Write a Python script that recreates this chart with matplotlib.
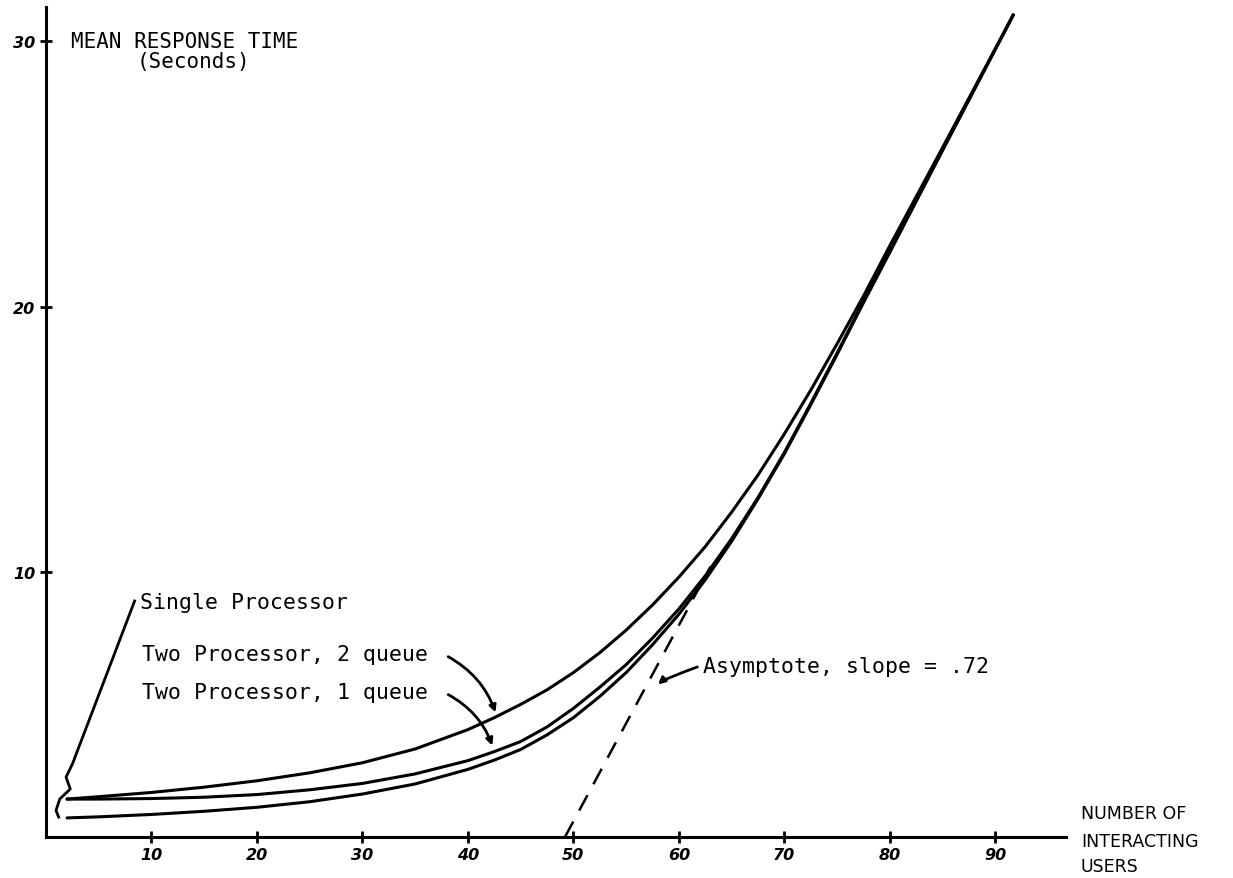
import numpy as np
import matplotlib.pyplot as plt

# values (users, mean response time in seconds)
users = [2, 5, 10, 15, 20, 25, 30, 35, 40, 42.5, 45, 47.5, 50, 52.5, 55, 57.5,
         60, 62.5, 65, 67.5, 70, 72.5, 75, 77.5, 80, 85, 91.7]
two_proc_2q = [1.43, 1.52, 1.68, 1.88, 2.12, 2.42, 2.8, 3.32, 4.05, 4.5, 5.0, 5.55, 6.2, 6.95,
               7.8, 8.75, 9.8, 10.95, 12.25, 13.65, 15.2, 16.85, 18.6, 20.4, 22.3, 26.0, 31.0]
two_proc_1q = [1.43, 1.43, 1.45, 1.5, 1.6, 1.78, 2.02, 2.38, 2.88, 3.22, 3.6, 4.15, 4.85, 5.65,
               6.5, 7.5, 8.6, 9.85, 11.25, 12.8, 14.5, 16.35, 18.25, 20.2, 22.1, 25.9, 31.0]
single_proc = [0.72, 0.76, 0.85, 0.97, 1.12, 1.33, 1.62, 2.0, 2.55, 2.9, 3.3, 3.85, 4.5, 5.3,
               6.2, 7.25, 8.4, 9.7, 11.15, 12.75, 14.45, 16.3, 18.2, 20.15, 22.05, 25.9, 31.0]

asym_x = [49.2, 63.0]
asym_y = [0.0, 10.2]

xticks = [10, 20, 30, 40, 50, 60, 70, 80, 90]
yticks = [10, 20, 30]

mono = 'DejaVu Sans Mono'

fig = plt.figure(figsize=(12.33, 8.79), dpi=100)
ax = fig.add_axes([46 / 1233, 41 / 879, (1066 - 46) / 1233, (838 - 8) / 879])
ax.set_xlim(0, 96.7)
ax.set_ylim(0, 31.3)

for s in ['top', 'right']:
    ax.spines[s].set_visible(False)
for s in ['left', 'bottom']:
    ax.spines[s].set_linewidth(2.2)

ax.set_xticks(xticks)
ax.set_yticks(yticks)
ax.set_xticklabels([str(v) for v in xticks], fontsize=11.5, fontweight='bold', fontstyle='italic')
ax.set_yticklabels([str(v) for v in yticks], fontsize=11.5, fontweight='bold', fontstyle='italic')
ax.tick_params(direction='inout', length=9, width=2, pad=3)

lw = 2.2
for series in [two_proc_2q, two_proc_1q, single_proc]:
    ax.plot(users, series, color='black', lw=lw, solid_capstyle='round', solid_joinstyle='round')

ax.plot(asym_x, asym_y, color='black', lw=1.8, linestyle=(0, (7, 5)))

# axis titles
ax.text(2.4, 30.0, 'MEAN RESPONSE TIME', family=mono, fontsize=15, va='center')
ax.text(8.6, 29.25, '(Seconds)', family=mono, fontsize=15, va='center')
for line, ypix in zip(['NUMBER OF', 'INTERACTING', 'USERS'], [814, 842, 867]):
    fig.text(1081 / 1233, 1 - ypix / 879, line, fontsize=12.5, va='center')

# curve labels
ax.text(8.9, 8.87, 'Single Processor', family=mono, fontsize=15.5, va='center')
ax.text(9.1, 6.9, 'Two Processor, 2 queue', family=mono, fontsize=15.5, va='center')
ax.text(9.1, 5.47, 'Two Processor, 1 queue', family=mono, fontsize=15.5, va='center')
ax.text(62.3, 6.45, 'Asymptote, slope = .72', family=mono, fontsize=15.5, va='center')

# leader for single processor
lead_x = [8.4, 2.5, 1.9, 2.3, 1.3, 0.95, 1.2]
lead_y = [8.9, 2.75, 2.26, 1.81, 1.43, 1.0, 0.75]
ax.plot(lead_x, lead_y, color='black', lw=2, solid_joinstyle='round')

ax.annotate('', xy=(42.7, 4.6), xytext=(37.9, 6.85),
            arrowprops=dict(arrowstyle='-|>', color='black', lw=2, connectionstyle='arc3,rad=-0.2'))
ax.annotate('', xy=(42.4, 3.35), xytext=(37.9, 5.42),
            arrowprops=dict(arrowstyle='-|>', color='black', lw=2, connectionstyle='arc3,rad=-0.2'))
ax.annotate('', xy=(57.9, 5.66), xytext=(62.0, 6.45),
            arrowprops=dict(arrowstyle='-|>', color='black', lw=2, connectionstyle='angle3,angleA=20,angleB=-60'))

fig.savefig('out.png', dpi=100)
